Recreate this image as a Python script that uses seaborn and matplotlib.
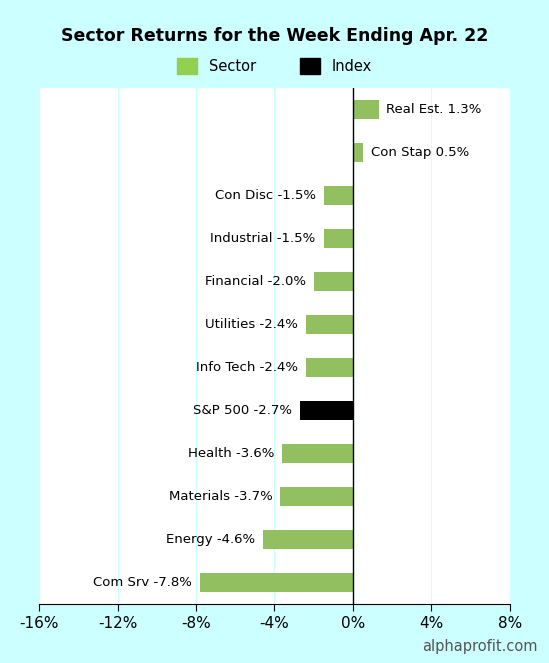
import matplotlib
matplotlib.use("Agg")
import matplotlib.pyplot as plt
import seaborn as sns
import pandas as pd

sectors = ["Real Est.", "Con Stap", "Con Disc", "Industrial", "Financial", "Utilities",
           "Info Tech", "S&P 500", "Health", "Materials", "Energy", "Com Srv"]
returns = [1.3, 0.5, -1.5, -1.5, -2.0, -2.4, -2.4, -2.7, -3.6, -3.7, -4.6, -7.8]
kinds = ["Sector"] * 7 + ["Index"] + ["Sector"] * 4
ticks = [-16, -12, -8, -4, 0, 4, 8]

df = pd.DataFrame({"sector": sectors, "ret": returns, "kind": kinds})

fig = plt.figure(figsize=(5.49, 6.63), dpi=100, facecolor="#ccffff")
ax = fig.add_axes([39/549, 1-604/663, 471/549, 516/663])
ax.set_facecolor("white")
sns.barplot(data=df, y="sector", x="ret", hue="kind", dodge=False,
            palette={"Sector": "#92d050", "Index": "#000000"}, width=0.42,
            orient="h", ax=ax, legend=False)
ax.set_xlim(-16, 8)
ax.set_ylim(11.5, -0.5)
ax.set_xticks(ticks)
ax.set_xticklabels([f"{t}%" for t in ticks], fontsize=11)
ax.set_yticks([])
ax.set_xlabel(""); ax.set_ylabel("")
for t in ticks:
    ax.axvline(t, color="#ccffff", lw=0.8, zorder=0)
ax.axvline(0, color="black", lw=1, zorder=3)
for s in ["top", "right", "left"]:
    ax.spines[s].set_visible(False)
ax.spines["bottom"].set_color("black")
ax.tick_params(axis="x", length=5)
for i, (s, r) in enumerate(zip(sectors, returns)):
    txt = f"{s} {r:.1f}%"
    if r >= 0:
        ax.text(r + 0.4, i, txt, va="center", ha="left", fontsize=9.5)
    else:
        ax.text(r - 0.4, i, txt, va="center", ha="right", fontsize=9.5)

fig.text(0.5, 1-36/663, "Sector Returns for the Week Ending Apr. 22", ha="center",
         va="center", fontsize=12.5, fontweight="bold")
from matplotlib.patches import Patch
handles = [Patch(color="#92d050", label="Sector"), Patch(color="black", label="Index")]
fig.legend(handles=handles, loc="center", bbox_to_anchor=(0.5, 1-66/663), ncol=2,
           frameon=False, fontsize=10.5, handlelength=1.4, handleheight=1.4, columnspacing=3)
fig.text(0.98, 1-647/663, "alphaprofit.com", ha="right", va="center", fontsize=10.5, color="#555555")
fig.savefig("out.png", dpi=100, facecolor=fig.get_facecolor())
